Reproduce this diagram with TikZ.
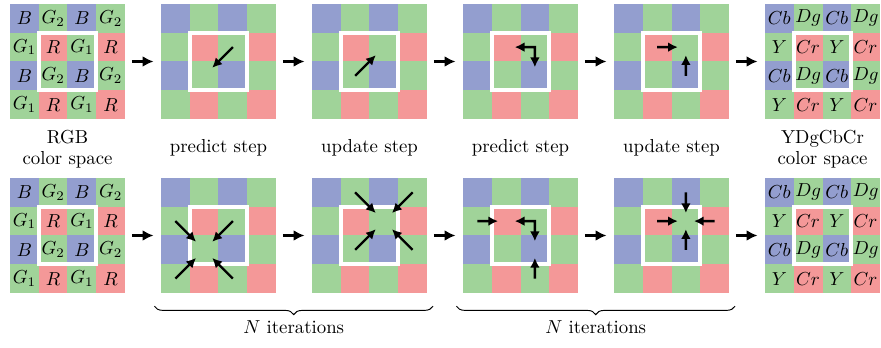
\documentclass[tikz,border=0pt]{standalone}
\usetikzlibrary{arrows.meta,calc,decorations.pathreplacing}

\definecolor{bayerB}{RGB}{147,158,207}
\definecolor{bayerG}{RGB}{160,211,153}
\definecolor{bayerR}{RGB}{244,152,152}

\tikzset{
  cell/.style={minimum size=15.3pt, inner sep=0pt, outer sep=0pt, draw=none},
  window/.style={draw=white, line width=2.2pt},
  flow/.style={line width=1.3pt, -{Latex[length=5.8pt,width=5.8pt]},
               shorten <=3.7pt, shorten >=4.0pt},
  move/.style={line width=1.3pt, -{Latex[length=5.2pt,width=5.2pt]}},
  twoway/.style={line width=1.3pt,
               {Latex[length=5.2pt,width=5.2pt]}-{Latex[length=5.2pt,width=5.2pt]}},
  caption/.style={align=center, inner sep=0pt},
  span/.style={decorate, decoration={brace, mirror, amplitude=4.5pt}, line width=0.5pt},
}

% 4x4 mosaic: #1 name, #2 left, #3 top, #4 labels of even rows, #5 labels of odd rows
\newcommand\mosaic[5]{%
  \foreach \r in {0,...,3}{%
    \ifodd\r \edef\rowlabels{#5}\else \edef\rowlabels{#4}\fi
    \foreach \c/\lab in \rowlabels {%
      \pgfmathtruncatemacro\kind{2*mod(\r,2)+mod(\c,2)}%
      \edef\tilecol{\ifcase\kind bayerB\or bayerG\or bayerG\or bayerR\fi}%
      \node[cell, fill=\tilecol] (#1-\r-\c)
        at ({#2+28.75*\c+14.375},{#3+28.75*\r+14.375}) {$\lab$};
    }%
  }%
  \draw[window] (#1-1-1.north west) rectangle (#1-2-2.south east);
}

% arrow from one cell centre towards another
\newcommand\nudge[2]{\draw[move] (#1.center) -- ($(#1.center)!0.72!(#2.center)$);}

\def\rgbEven{0/B,1/G_2,2/B,3/G_2}
\def\rgbOdd{0/G_1,1/R,2/G_1,3/R}
\def\ydgEven{0/Cb,1/Dg,2/Cb,3/Dg}
\def\ydgOdd{0/Y,1/Cr,2/Y,3/Cr}
\def\blank{0/{},1/{},2/{},3/{}}

\begin{document}
\begin{tikzpicture}[x=0.532pt, y=-0.532pt]
  \useasboundingbox (0,0) rectangle (881,348);

  % ---- single pass ----
  \mosaic{r1g1}{10}{4}{\rgbEven}{\rgbOdd}
  \mosaic{r1g2}{161}{4}{\blank}{\blank}
  \mosaic{r1g3}{312}{4}{\blank}{\blank}
  \mosaic{r1g4}{463}{4}{\blank}{\blank}
  \mosaic{r1g5}{614}{4}{\blank}{\blank}
  \mosaic{r1g6}{765}{4}{\ydgEven}{\ydgOdd}

  \draw[flow] (r1g1-1-3.south east) -- (r1g2-1-0.south west);
  \draw[flow] (r1g2-1-3.south east) -- (r1g3-1-0.south west);
  \draw[flow] (r1g3-1-3.south east) -- (r1g4-1-0.south west);
  \draw[flow] (r1g4-1-3.south east) -- (r1g5-1-0.south west);
  \draw[flow] (r1g5-1-3.south east) -- (r1g6-1-0.south west);

  \nudge{r1g2-1-2}{r1g2-2-1}
  \nudge{r1g3-2-1}{r1g3-1-2}
  \draw[twoway] ($(r1g4-1-2.center)!0.7!(r1g4-1-1.center)$) -- (r1g4-1-2.center)
                -- ($(r1g4-1-2.center)!0.7!(r1g4-2-2.center)$);
  \nudge{r1g5-1-1}{r1g5-1-2}
  \nudge{r1g5-2-2}{r1g5-1-2}

  \node[caption] (cap1) at ($(r1g1-3-1.south east)+(0,30)$) {RGB\\[-1pt]color space};
  \node[caption] (cap2) at ($(r1g2-3-1.south east)+(0,29)$) {predict step};
  \node[caption] (cap3) at ($(r1g3-3-1.south east)+(0,29)$) {update step};
  \node[caption] (cap4) at ($(r1g4-3-1.south east)+(0,29)$) {predict step};
  \node[caption] (cap5) at ($(r1g5-3-1.south east)+(0,29)$) {update step};
  \node[caption] (cap6) at ($(r1g6-3-1.south east)+(0,30)$) {YDgCbCr\\[-1pt]color space};

  % ---- iterated passes ----
  \mosaic{r2g1}{10}{178}{\rgbEven}{\rgbOdd}
  \mosaic{r2g2}{161}{178}{\blank}{\blank}
  \mosaic{r2g3}{312}{178}{\blank}{\blank}
  \mosaic{r2g4}{463}{178}{\blank}{\blank}
  \mosaic{r2g5}{614}{178}{\blank}{\blank}
  \mosaic{r2g6}{765}{178}{\ydgEven}{\ydgOdd}

  \draw[flow] (r2g1-1-3.south east) -- (r2g2-1-0.south west);
  \draw[flow] (r2g2-1-3.south east) -- (r2g3-1-0.south west);
  \draw[flow] (r2g3-1-3.south east) -- (r2g4-1-0.south west);
  \draw[flow] (r2g4-1-3.south east) -- (r2g5-1-0.south west);
  \draw[flow] (r2g5-1-3.south east) -- (r2g6-1-0.south west);

  \foreach \s in {1-0,1-2,3-0,3-2} {\nudge{r2g2-\s}{r2g2-2-1}}
  \foreach \s in {0-1,0-3,2-1,2-3} {\nudge{r2g3-\s}{r2g3-1-2}}
  \nudge{r2g4-1-0}{r2g4-1-1}
  \draw[twoway] ($(r2g4-1-2.center)!0.7!(r2g4-1-1.center)$) -- (r2g4-1-2.center)
                -- ($(r2g4-1-2.center)!0.7!(r2g4-2-2.center)$);
  \nudge{r2g4-3-2}{r2g4-2-2}
  \foreach \s in {0-2,1-1,1-3,2-2} {\nudge{r2g5-\s}{r2g5-1-2}}

  \draw[span] ([xshift=-3.5pt,yshift=-7pt]r2g2-3-0.south west)
           -- ([xshift=3.2pt,yshift=-7pt]r2g3-3-3.south east)
           node[midway, below=4.3pt] (iter1) {$N$ iterations};
  \draw[span] ([xshift=-3.5pt,yshift=-7pt]r2g4-3-0.south west)
           -- ([xshift=3.2pt,yshift=-7pt]r2g5-3-3.south east)
           node[midway, below=4.3pt] (iter2) {$N$ iterations};
\end{tikzpicture}
\end{document}
